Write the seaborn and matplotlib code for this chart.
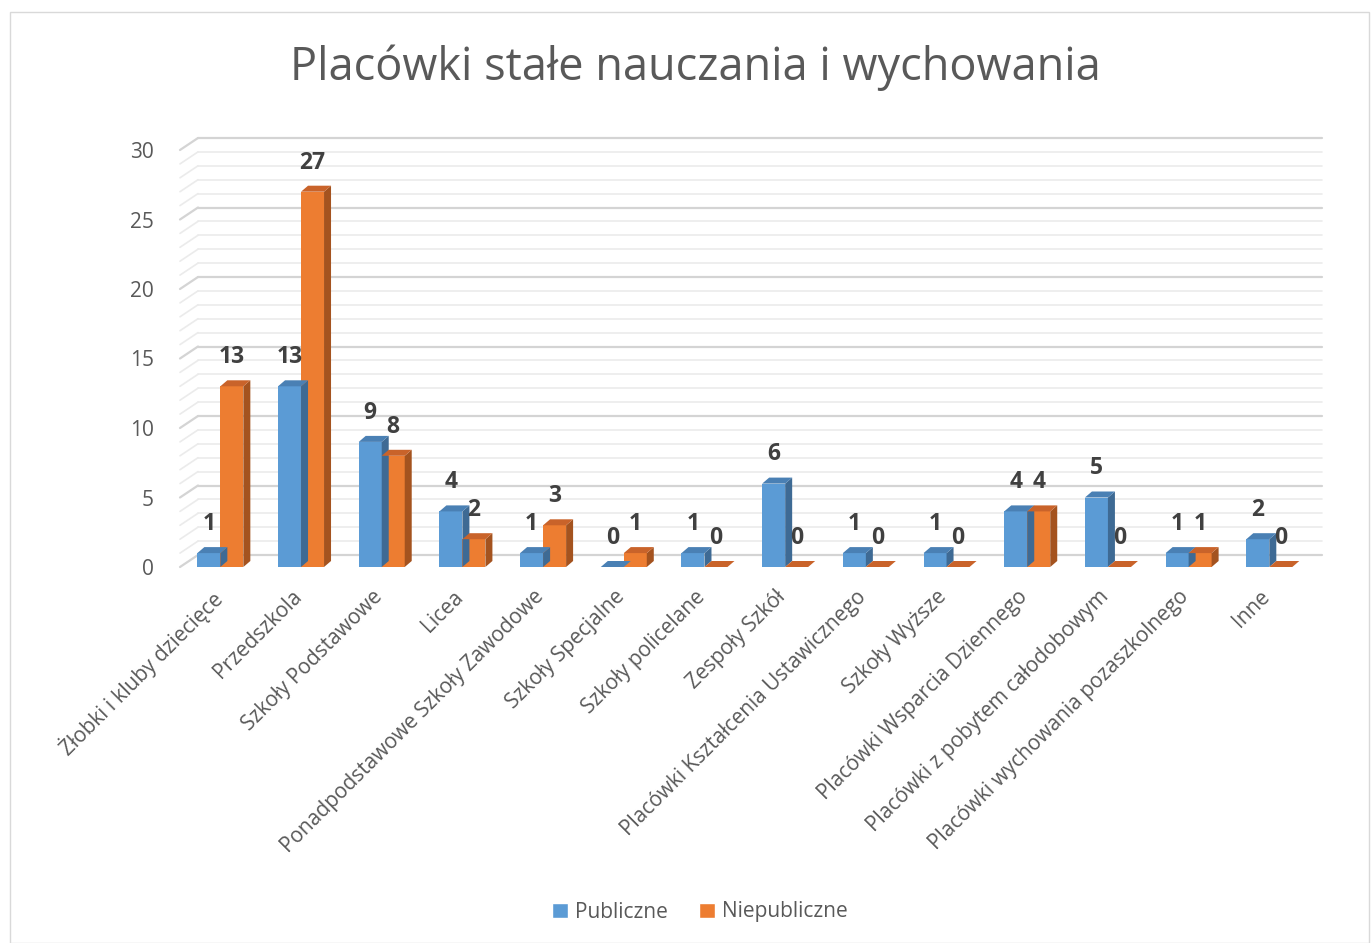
import pandas as pd
import matplotlib.pyplot as plt
import matplotlib.transforms as mtransforms
from matplotlib.patches import Polygon, Rectangle
import seaborn as sns

categories = ['Żłobki i kluby dziecięce', 'Przedszkola', 'Szkoły Podstawowe', 'Licea',
              'Ponadpodstawowe Szkoły Zawodowe', 'Szkoły Specjalne', 'Szkoły policelane',
              'Zespoły Szkół', 'Placówki Kształcenia Ustawicznego', 'Szkoły Wyższe',
              'Placówki Wsparcia Dziennego', 'Placówki z pobytem całodobowym',
              'Placówki wychowania pozaszkolnego', 'Inne']
publiczne = [1, 13, 9, 4, 1, 0, 1, 6, 1, 1, 4, 5, 1, 2]
niepubliczne = [13, 27, 8, 2, 3, 1, 0, 0, 0, 0, 4, 0, 1, 0]
series = ['Publiczne', 'Niepubliczne']
colors = {'Publiczne': '#5B9BD5', 'Niepubliczne': '#ED7D31'}
side_colors = {'Publiczne': '#3E6A94', 'Niepubliczne': '#A4531F'}
top_colors = {'Publiczne': '#4A80B4', 'Niepubliczne': '#C9632A'}

df = pd.DataFrame({'Kategoria': categories, 'Publiczne': publiczne, 'Niepubliczne': niepubliczne})
df_long = pd.melt(df, id_vars=['Kategoria'], value_vars=series, var_name='Typ', value_name='Liczba')

sns.set_style('white')
plt.rcParams['font.family'] = ['Open Sans', 'DejaVu Sans']

W, H = 1371, 943
fig = plt.figure(figsize=(W / 100, H / 100), dpi=100)
ax = fig.add_axes([180 / W, (H - 567) / H, 1124 / W, 417 / H])

sns.barplot(data=df_long, x='Kategoria', y='Liczba', hue='Typ', hue_order=series,
            palette=colors, saturation=1, width=0.57, gap=0, legend=False, ax=ax, zorder=3)
bars = list(ax.patches)
bar_types = [series[i // len(categories)] for i in range(len(bars))]

ax.set_xlim(-0.5, 13.43)
ax.set_ylim(0, 30)
for s in ax.spines.values():
    s.set_visible(False)

# back wall grid (shifted for the 3D look)
gdx, gdy = 18, 12
back = mtransforms.offset_copy(ax.transData, fig=fig, x=gdx, y=gdy, units='dots')
x0, x1 = ax.get_xlim()
for v in range(0, 31):
    major = v % 5 == 0
    c = '#D4D4D4' if major else '#EBEBEB'
    lw = 1.6 if major else 1.2
    ax.plot([x0, x1], [v, v], transform=back, color=c, lw=lw, zorder=1, clip_on=False)
    p0 = ax.transData.transform((x0, v))
    ax.plot([p0[0], p0[0] + gdx], [p0[1], p0[1] + gdy], transform=None,
            color=c, lw=lw, zorder=1, clip_on=False)

# 3D faces of the bars
ddx, ddy = 7, 6
inv = ax.transData.inverted()
for bar, typ in zip(bars, bar_types):
    bx, by = bar.get_x(), bar.get_y()
    bw, bh = bar.get_width(), bar.get_height()
    bar.set_edgecolor('none')
    pts = ax.transData.transform([(bx, by), (bx + bw, by + bh)])
    (xl, yb), (xr, yt) = pts
    side = inv.transform([(xr, yb), (xr + ddx, yb + ddy), (xr + ddx, yt + ddy), (xr, yt)])
    top = inv.transform([(xl, yt), (xl + ddx, yt + ddy), (xr + ddx, yt + ddy), (xr, yt)])
    ax.add_patch(Polygon(side, closed=True, facecolor=side_colors[typ], edgecolor='none',
                         zorder=3, clip_on=False))
    ax.add_patch(Polygon(top, closed=True, facecolor=top_colors[typ], edgecolor='none',
                         zorder=3, clip_on=False))

# data labels
for bar in bars:
    h = bar.get_height()
    ax.annotate(f'{int(round(h))}', (bar.get_x() + bar.get_width() / 2, h),
                xytext=(0, 21), textcoords='offset points', ha='center', va='center',
                fontsize=16.5, fontweight='bold', color='#404040', zorder=5,
                annotation_clip=False)

ax.set_xlabel('')
ax.set_ylabel('')
ax.set_yticks(range(0, 31, 5))
ax.tick_params(axis='y', length=0, pad=19, labelsize=15, labelcolor='#595959')
ax.set_xticks(range(len(categories)))
ax.set_xticklabels(categories, rotation=45, ha='right', rotation_mode='anchor',
                   fontsize=15, color='#595959')
ax.tick_params(axis='x', length=0, pad=14)
shift = mtransforms.ScaledTranslation(-10 / 100, 0, fig.dpi_scale_trans)
for lbl in ax.get_xticklabels():
    lbl.set_transform(lbl.get_transform() + shift)

fig.text(695 / W, 1 - 68 / H, 'Placówki stałe nauczania i wychowania', ha='center', va='center',
         fontsize=32.5, color='#595959')

handles = [Rectangle((0, 0), 1, 1, facecolor=colors[s]) for s in series]
fig.legend(handles, series, loc='center', bbox_to_anchor=(700 / W, 1 - 912 / H), ncol=2,
           frameon=False, fontsize=15, labelcolor='#595959', handlelength=0.75, handleheight=0.75,
           handletextpad=0.35, columnspacing=1.5)

fig.add_artist(Rectangle((10 / W, 0), (W - 12) / W, (H - 12) / H, transform=fig.transFigure,
                         fill=False, edgecolor='#D9D9D9', lw=1))

fig.savefig('out.png', dpi=100)
